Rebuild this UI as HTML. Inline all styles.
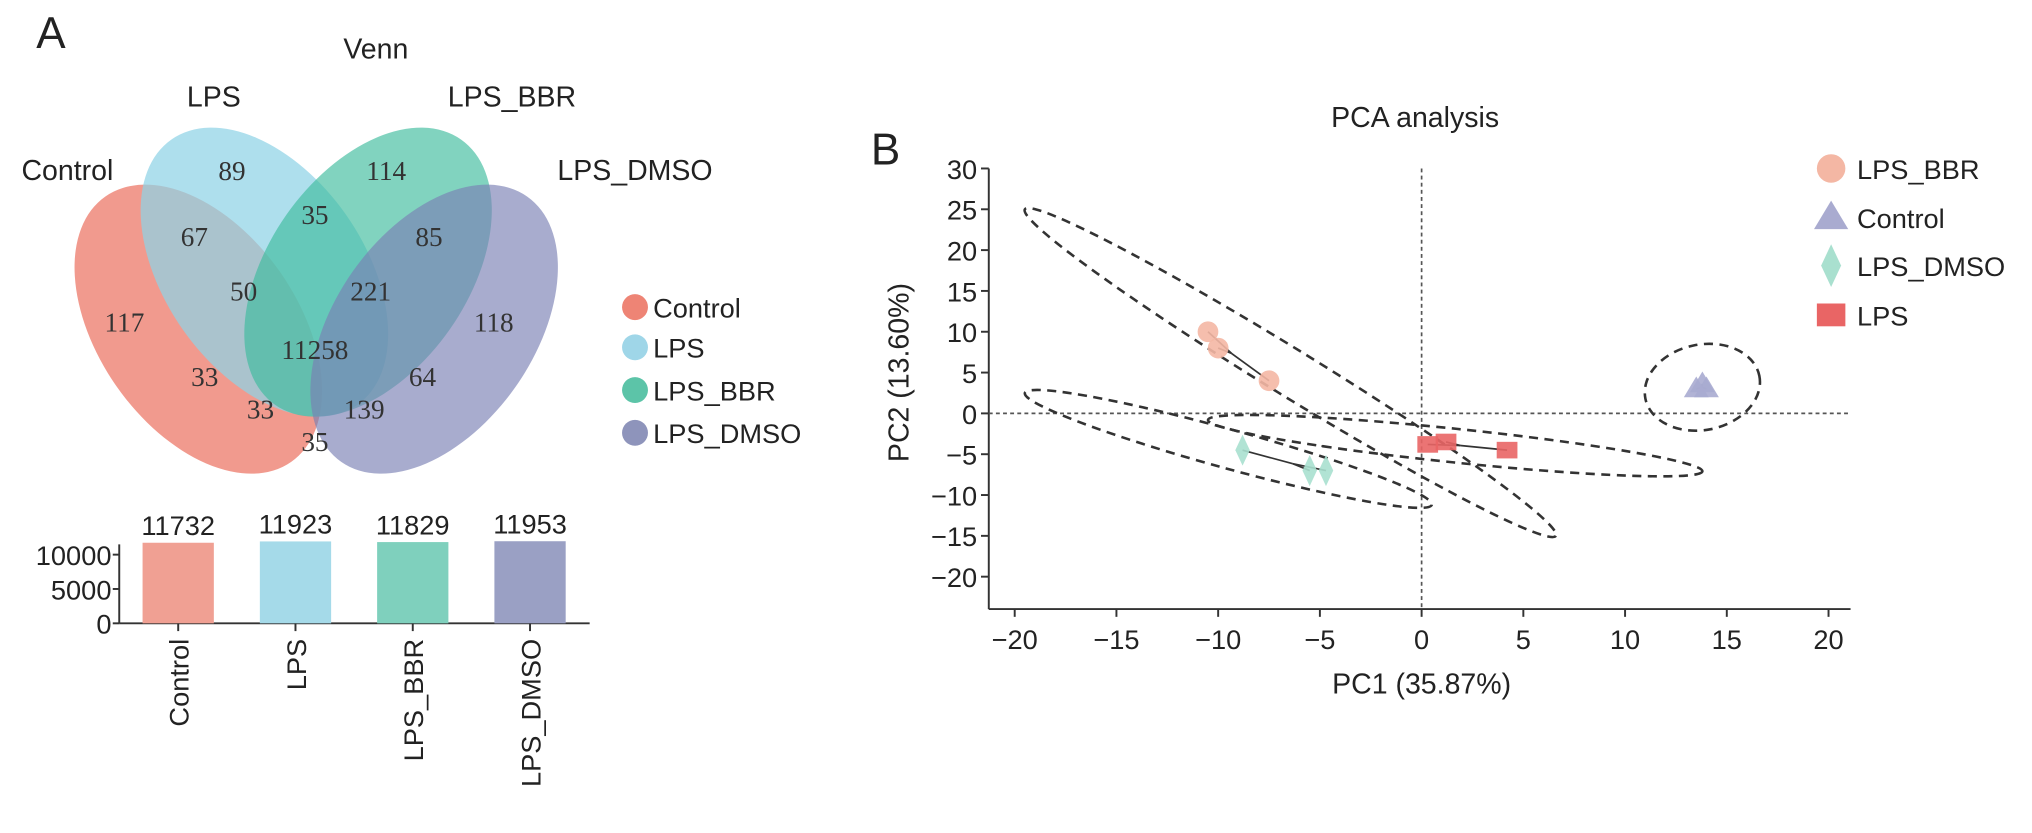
<!DOCTYPE html>
<html><head><meta charset="utf-8"><style>
html,body{margin:0;padding:0;background:#fff;}
svg{display:block;}
text{font-family:"Liberation Sans",Arial,sans-serif;fill:#222;}
.num{font-family:"Liberation Serif","DejaVu Serif",serif;fill:#333;}
</style></head><body>
<svg id="fig" width="2032" height="833" viewBox="0 0 1568 642.8" xmlns="http://www.w3.org/2000/svg">
<g id="venn">
<text x="28" y="37" font-size="34">A</text>
<text x="290" y="45" font-size="22" text-anchor="middle">Venn</text>
<text x="165" y="82" font-size="22" text-anchor="middle">LPS</text>
<text x="395" y="82" font-size="22" text-anchor="middle">LPS_BBR</text>
<text x="52" y="139" font-size="22" text-anchor="middle">Control</text>
<text x="490" y="139" font-size="22" text-anchor="middle">LPS_DMSO</text>
<ellipse cx="153" cy="254" rx="77" ry="125" transform="rotate(-35 153 254)" fill="#ee8475" fill-opacity="0.82"/>
<ellipse cx="204" cy="210" rx="77" ry="125" transform="rotate(-35 204 210)" fill="#8fd2e6" fill-opacity="0.72"/>
<ellipse cx="284" cy="210" rx="77" ry="125" transform="rotate(35 284 210)" fill="#3dbb9c" fill-opacity="0.65"/>
<ellipse cx="335" cy="254" rx="77" ry="125" transform="rotate(35 335 254)" fill="#7a80b3" fill-opacity="0.65"/>
<g font-size="21" text-anchor="middle">
<text class="num" x="179" y="139">89</text>
<text class="num" x="298" y="139">114</text>
<text class="num" x="150" y="190">67</text>
<text class="num" x="243" y="173">35</text>
<text class="num" x="331" y="190">85</text>
<text class="num" x="188" y="232">50</text>
<text class="num" x="286" y="232">221</text>
<text class="num" x="96" y="256">117</text>
<text class="num" x="243" y="277">11258</text>
<text class="num" x="381" y="256">118</text>
<text class="num" x="158" y="298">33</text>
<text class="num" x="326" y="298">64</text>
<text class="num" x="201" y="323">33</text>
<text class="num" x="281" y="323">139</text>
<text class="num" x="243" y="348">35</text>
</g>
<g>
<circle cx="490" cy="237" r="10" fill="#ee8475"/>
<text x="504" y="245" font-size="21">Control</text>
<circle cx="490" cy="268" r="10" fill="#9fd6e8"/>
<text x="504" y="276" font-size="21">LPS</text>
<circle cx="490" cy="301" r="10" fill="#5cc4a8"/>
<text x="504" y="309" font-size="21">LPS_BBR</text>
<circle cx="490" cy="334" r="10" fill="#8e94bb"/>
<text x="504" y="342" font-size="21">LPS_DMSO</text>
</g>
</g>
<g id="bars"></g>
<g id="pca"></g>
</svg>
<script>
const NS='http://www.w3.org/2000/svg';
function mk(parent,tag,attrs,txt){const e=document.createElementNS(NS,tag);for(const k in attrs)e.setAttribute(k,attrs[k]);if(txt!==undefined)e.textContent=txt;parent.appendChild(e);return e;}

// ---- bar chart data ----
const barCategories=['Control','LPS','LPS_BBR','LPS_DMSO'];
const barValues=[11732,11923,11829,11953];
const barColors=['#f0a093','#a5dae9','#7fd0bd','#9aa0c4'];
const barTicks=[0,5000,10000];

// ---- PCA data ----
const pcaGroups=['LPS_BBR','Control','LPS_DMSO','LPS'];
const bbrX=[-10.5,-10,-7.5], bbrY=[10,8,4];
const ctrlX=[13.5,13.8,14], ctrlY=[3,3.6,3];
const dmsoX=[-8.8,-5.5,-4.7], dmsoY=[-4.5,-7,-7];
const lpsX=[0.3,1.2,4.2], lpsY=[-3.8,-3.5,-4.5];
const xTicks=[-20,-15,-10,-5,0,5,10,15,20];
const yTicks=[30,25,20,15,10,5,0,-5,-10,-15,-20];

// bar chart
(function(){
  const g=document.getElementById('bars');
  const y=v=>481-v*0.0053;
  const x0=92, step=90.5, bw=55;
  const cx=i=>137.5+i*step;
  const ax=mk(g,'line',{x1:x0,y1:481,x2:455,y2:481,stroke:'#333','stroke-width':1.5});
  
  const ay=mk(g,'line',{x1:x0,y1:y(11500),x2:x0,y2:481,stroke:'#333','stroke-width':1.5});
  
  barTicks.forEach(t=>{
    const l=mk(g,'line',{x1:x0-5,y1:y(t),x2:x0,y2:y(t),stroke:'#333','stroke-width':1.5});
    
    const tx=mk(g,'text',{x:x0-6,y:y(t)+8,'font-size':21,'text-anchor':'end'},String(t));
    
  });
  barCategories.forEach((c,i)=>{
    const r=mk(g,'rect',{x:cx(i)-bw/2,y:y(barValues[i]),width:bw,height:481-y(barValues[i]),fill:barColors[i]});
    
    const v=mk(g,'text',{x:cx(i),y:y(barValues[i])-6,'font-size':21,'text-anchor':'middle'},String(barValues[i]));
    
    const tk=mk(g,'line',{x1:cx(i),y1:481,x2:cx(i),y2:487,stroke:'#333','stroke-width':1.5});
    
    const lb=mk(g,'text',{x:0,y:0,'font-size':21,'text-anchor':'end',transform:`translate(${cx(i)+8},493) rotate(-90)`},c);
    
  });
})();

// PCA
(function(){
  const g=document.getElementById('pca');
  const X=v=>1097+v*15.7, Y=v=>319-v*6.3;
  const left=763,bottom=470;
  let e;
  e=mk(g,'text',{x:672,y:127,'font-size':34},'B');
  e=mk(g,'text',{x:1092,y:98,'font-size':22,'text-anchor':'middle'},'PCA analysis');
  e=mk(g,'line',{x1:left,y1:Y(30),x2:left,y2:bottom,stroke:'#333','stroke-width':1.5});
  e=mk(g,'line',{x1:left,y1:bottom,x2:1428,y2:bottom,stroke:'#333','stroke-width':1.5});
  yTicks.forEach(t=>{
    e=mk(g,'line',{x1:left-6,y1:Y(t),x2:left,y2:Y(t),stroke:'#333','stroke-width':1.5});
    e=mk(g,'text',{x:left-9,y:Y(t)+8,'font-size':21,'text-anchor':'end'},(t<0?'\u2212'+(-t):String(t)));
  });
  xTicks.forEach(t=>{
    e=mk(g,'line',{x1:X(t),y1:bottom,x2:X(t),y2:bottom+6,stroke:'#333','stroke-width':1.5});
    e=mk(g,'text',{x:X(t),y:bottom+31,'font-size':21,'text-anchor':'middle'},(t<0?'\u2212'+(-t):String(t)));
  });
  e=mk(g,'text',{x:1097,y:535,'font-size':22,'text-anchor':'middle'},'PC1 (35.87%)');
  e=mk(g,'text',{x:0,y:0,'font-size':22,'text-anchor':'middle',transform:`translate(701,${Y(5)}) rotate(-90)`},'PC2 (13.60%)');
  e=mk(g,'line',{x1:X(0),y1:Y(30),x2:X(0),y2:bottom,stroke:'#555','stroke-width':1.3,'stroke-dasharray':'3,2.5'});
  e=mk(g,'line',{x1:left,y1:Y(0),x2:1428,y2:Y(0),stroke:'#555','stroke-width':1.3,'stroke-dasharray':'3,2.5'});
  // confidence ellipses: major-axis endpoints (data units) + half width (px)
  const ells=[[-19.5,25,6.6,-15,18],[-19.5,2.5,0.5,-11.2,15],[-10.5,-0.8,13.8,-7.1,13],[11,1.8,16.6,4.6,33]];
  ells.forEach((p,i)=>{
    const x1=X(p[0]),y1=Y(p[1]),x2=X(p[2]),y2=Y(p[3]);
    const cx=(x1+x2)/2,cy=(y1+y2)/2,a=Math.hypot(x2-x1,y2-y1)/2,ang=Math.atan2(y2-y1,x2-x1)*180/Math.PI;
    e=mk(g,'ellipse',{cx:cx,cy:cy,rx:a,ry:p[4],transform:`rotate(${ang} ${cx} ${cy})`,fill:'none',stroke:'#333','stroke-width':2,'stroke-dasharray':'7,5'});
    
  });
  const series=[[bbrX,bbrY,'#f4b7a4','circle'],[ctrlX,ctrlY,'#a9abd0','tri'],[dmsoX,dmsoY,'#a9e0cf','diamond'],[lpsX,lpsY,'#e96565','square']];
  function shape(par,kind,x,y,col,s){
    if(kind==='circle')return mk(par,'circle',{cx:x,cy:y,r:s,fill:col});
    if(kind==='square')return mk(par,'rect',{x:x-s,y:y-s*0.8,width:2*s,height:1.6*s,fill:col});
    if(kind==='tri')return mk(par,'polygon',{points:`${x},${y-s*1.2} ${x+s*1.2},${y+s*0.8} ${x-s*1.2},${y+s*0.8}`,fill:col});
    return mk(par,'polygon',{points:`${x},${y-s*1.5} ${x+s*0.7},${y} ${x},${y+s*1.5} ${x-s*0.7},${y}`,fill:col});
  }
  series.forEach((s,gi)=>{
    const xs=s[0],ys=s[1];
    const mx=xs.reduce((a,b)=>a+b,0)/xs.length,my=ys.reduce((a,b)=>a+b,0)/ys.length;
    xs.forEach((v,i)=>{
      e=mk(g,'line',{x1:X(mx),y1:Y(my),x2:X(v),y2:Y(ys[i]),stroke:'#333','stroke-width':1.3});
    });
    xs.forEach((v,i)=>{
      e=shape(g,s[3],X(v),Y(ys[i]),s[2],8);e.setAttribute('opacity','0.9');
      
    });
  });
  const ly=[130,168,205,243];
  series.forEach((s,i)=>{
    e=shape(g,s[3],1413,ly[i],s[2],11);
    e=mk(g,'text',{x:1433,y:ly[i]+8,'font-size':21},pcaGroups[i]);
  });
})();
</script>
</body></html>
